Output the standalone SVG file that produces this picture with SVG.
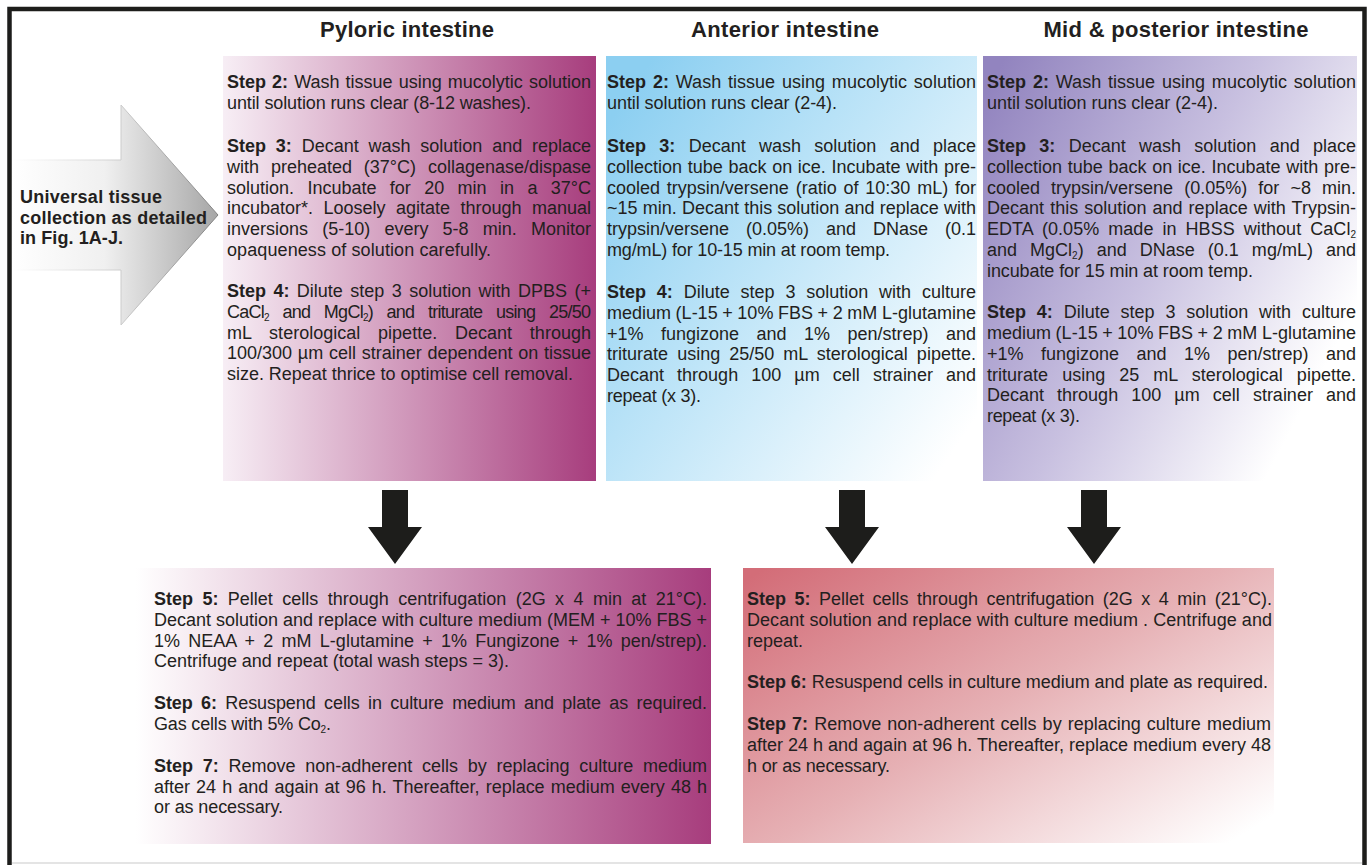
<svg xmlns="http://www.w3.org/2000/svg" width="1367" height="865" viewBox="0 0 1367 865">
<style>
.t{font-family:"Liberation Sans",Arial,sans-serif;font-size:18px;fill:#231f20;}
.b{font-weight:bold;}
.h{font-family:"Liberation Sans",Arial,sans-serif;font-size:22px;font-weight:bold;fill:#231f20;}
.u{font-family:"Liberation Sans",Arial,sans-serif;font-size:18px;font-weight:bold;fill:#231f20;}
.s{font-size:10px;}
.arr{fill:#1d1d1b;}
</style>
<defs>
<linearGradient id="gPy" x1="0" y1="0" x2="1" y2="0"><stop offset="0" stop-color="#f7eef5"/><stop offset="1" stop-color="#a73d7d"/></linearGradient>
<linearGradient id="gPy2" x1="0" y1="0" x2="1" y2="0"><stop offset="0" stop-color="#ffffff"/><stop offset="1" stop-color="#a73d7d"/></linearGradient>
<linearGradient id="gAn" x1="0.05" y1="0.1" x2="1" y2="0.85"><stop offset="0" stop-color="#8ccff1"/><stop offset="0.45" stop-color="#bfe5f8"/><stop offset="1" stop-color="#ffffff"/></linearGradient>
<linearGradient id="gMid" x1="0" y1="0.1" x2="1" y2="0.7"><stop offset="0" stop-color="#9284bf"/><stop offset="0.5" stop-color="#c8c0e0"/><stop offset="0.95" stop-color="#ffffff"/></linearGradient>
<linearGradient id="gRed" x1="0" y1="0.05" x2="1" y2="0.9"><stop offset="0" stop-color="#d36d78"/><stop offset="0.5" stop-color="#e6b0b4"/><stop offset="1" stop-color="#ffffff"/></linearGradient>
<linearGradient id="gArr" gradientUnits="userSpaceOnUse" x1="12" y1="0" x2="218" y2="0"><stop offset="0" stop-color="#ffffff"/><stop offset="0.45" stop-color="#f0f0f0"/><stop offset="1" stop-color="#a6a6a6"/></linearGradient>
<linearGradient id="gArrS" gradientUnits="userSpaceOnUse" x1="12" y1="0" x2="218" y2="0"><stop offset="0" stop-color="#ffffff"/><stop offset="0.5" stop-color="#d0d0d0"/><stop offset="1" stop-color="#808080"/></linearGradient>
</defs>
<rect width="1367" height="865" fill="#ffffff"/>
<line x1="12" y1="863" x2="1362" y2="863" stroke="#e4e4e4" stroke-width="2"/>
<path d="M9.5,866 V9 H1364.5 V866" fill="none" stroke="#1d1d1b" stroke-width="4.5"/>

<g id="source">
<path d="M12,160 H121 V105 L218,215 L121,325 V270 H12 Z" fill="url(#gArr)" stroke="none"/>
<path d="M12,160 H121 V105 L218,215 L121,325 V270 H12" fill="none" stroke="url(#gArrS)" stroke-width="1"/>
<text class="u" x="20" y="203" textLength="142">Universal tissue</text>
<text class="u" x="20" y="224" textLength="187">collection as detailed</text>
<text class="u" x="20" y="244" textLength="103">in Fig. 1A-J.</text>
</g>

<g id="titles">
<text class="h" x="407" y="37" text-anchor="middle" textLength="174">Pyloric intestine</text>
<text class="h" x="785" y="37" text-anchor="middle" textLength="188">Anterior intestine</text>
<text class="h" x="1176" y="37" text-anchor="middle" textLength="265">Mid &amp; posterior intestine</text>
</g>

<g id="pyloric">
<rect x="223" y="56" width="373" height="425" fill="url(#gPy)"/>
<text class="t" x="227" y="88" textLength="364" word-spacing="1"><tspan class="b">Step 2:</tspan> Wash tissue using mucolytic solution</text>
<text class="t" x="227" y="109" textLength="304">until solution runs clear (8-12 washes).</text>
<text class="t" x="227" y="152" textLength="364" word-spacing="4.8"><tspan class="b">Step 3:</tspan> Decant wash solution and replace</text>
<text class="t" x="227" y="173" textLength="364" word-spacing="6.9">with preheated (37°C) collagenase/dispase</text>
<text class="t" x="227" y="194" textLength="364" word-spacing="8.4">solution. Incubate for 20 min in a 37°C</text>
<text class="t" x="227" y="214" textLength="364" word-spacing="5.5">incubator*. Loosely agitate through manual</text>
<text class="t" x="227" y="235" textLength="364" word-spacing="9.2">inversions (5-10) every 5-8 min. Monitor</text>
<text class="t" x="227" y="256" textLength="264">opaqueness of solution carefully.</text>
<text class="t" x="227" y="297" textLength="364" word-spacing="2.4"><tspan class="b">Step 4:</tspan> Dilute step 3 solution with DPBS (+</text>
<text class="t" x="227" y="318" textLength="364" word-spacing="9.3">CaCl<tspan class="s" dy="3">2</tspan><tspan dy="-3"> and MgCl</tspan><tspan class="s" dy="3">2</tspan><tspan dy="-3">) and triturate using 25/50</tspan></text>
<text class="t" x="227" y="339" textLength="364" word-spacing="12.7">mL sterological pipette. Decant through</text>
<text class="t" x="227" y="359" textLength="364" word-spacing="0.8">100/300 µm cell strainer dependent on tissue</text>
<text class="t" x="227" y="380" textLength="346">size. Repeat thrice to optimise cell removal.</text>
</g>

<g id="anterior">
<rect x="606" y="56" width="371" height="425" fill="url(#gAn)"/>
<text class="t" x="607" y="88" textLength="369" word-spacing="1.8"><tspan class="b">Step 2:</tspan> Wash tissue using mucolytic solution</text>
<text class="t" x="607" y="109" textLength="230">until solution runs clear (2-4).</text>
<text class="t" x="607" y="152" textLength="369" word-spacing="8.3"><tspan class="b">Step 3:</tspan> Decant wash solution and place</text>
<text class="t" x="607" y="173" textLength="369" word-spacing="0.7">collection tube back on ice. Incubate with pre-</text>
<text class="t" x="607" y="194" textLength="369" word-spacing="1.8">cooled trypsin/versene (ratio of 10:30 mL) for</text>
<text class="t" x="607" y="214" textLength="369" word-spacing="0.2">~15 min. Decant this solution and replace with</text>
<text class="t" x="607" y="235" textLength="369" word-spacing="12">trypsin/versene (0.05%) and DNase (0.1</text>
<text class="t" x="607" y="256" textLength="283">mg/mL) for 10-15 min at room temp.</text>
<text class="t" x="607" y="298" textLength="369" word-spacing="5.8"><tspan class="b">Step 4:</tspan> Dilute step 3 solution with culture</text>
<text class="t" x="607" y="319" textLength="369" word-spacing="-0.4">medium (L-15 + 10% FBS + 2 mM L-glutamine</text>
<text class="t" x="607" y="340" textLength="369" word-spacing="12.5">+1% fungizone and 1% pen/strep) and</text>
<text class="t" x="607" y="360" textLength="369" word-spacing="4">triturate using 25/50 mL sterological pipette.</text>
<text class="t" x="607" y="381" textLength="369" word-spacing="8.1">Decant through 100 µm cell strainer and</text>
<text class="t" x="607" y="402" textLength="94">repeat (x 3).</text>
</g>

<g id="mid-posterior">
<rect x="983" y="56" width="374" height="425" fill="url(#gMid)"/>
<text class="t" x="987" y="88" textLength="369" word-spacing="1.8"><tspan class="b">Step 2:</tspan> Wash tissue using mucolytic solution</text>
<text class="t" x="987" y="109" textLength="231">until solution runs clear (2-4).</text>
<text class="t" x="987" y="152" textLength="369" word-spacing="8.3"><tspan class="b">Step 3:</tspan> Decant wash solution and place</text>
<text class="t" x="987" y="173" textLength="369" word-spacing="0.7">collection tube back on ice. Incubate with pre-</text>
<text class="t" x="987" y="194" textLength="369" word-spacing="6.1">cooled trypsin/versene (0.05%) for ~8 min.</text>
<text class="t" x="987" y="214" textLength="369" word-spacing="1">Decant this solution and replace with Trypsin-</text>
<text class="t" x="987" y="235" textLength="369" word-spacing="3.9">EDTA (0.05% made in HBSS without CaCl<tspan class="s" dy="3">2</tspan></text>
<text class="t" x="987" y="256" textLength="369" word-spacing="8">and MgCl<tspan class="s" dy="3">2</tspan><tspan dy="-3">) and DNase (0.1 mg/mL) and</tspan></text>
<text class="t" x="987" y="277" textLength="266">incubate for 15 min at room temp.</text>
<text class="t" x="987" y="318" textLength="369" word-spacing="5.8"><tspan class="b">Step 4:</tspan> Dilute step 3 solution with culture</text>
<text class="t" x="987" y="339" textLength="369" word-spacing="-0.4">medium (L-15 + 10% FBS + 2 mM L-glutamine</text>
<text class="t" x="987" y="360" textLength="369" word-spacing="12.5">+1% fungizone and 1% pen/strep) and</text>
<text class="t" x="987" y="381" textLength="369" word-spacing="9">triturate using 25 mL sterological pipette.</text>
<text class="t" x="987" y="401" textLength="369" word-spacing="8.1">Decant through 100 µm cell strainer and</text>
<text class="t" x="987" y="422" textLength="93">repeat (x 3).</text>
</g>

<g id="connectors">
<path class="arr" d="M382,490 H408 V527 H422 L395,564 L368,527 H382 Z"/>
<path class="arr" d="M839,490 H865 V527 H879 L852,564 L825,527 H839 Z"/>
<path class="arr" d="M1081,490 H1107 V527 H1121 L1094,564 L1067,527 H1081 Z"/>
</g>

<g id="pyloric-culture">
<rect x="136" y="568" width="575" height="276" fill="url(#gPy2)"/>
<text class="t" x="154" y="605" textLength="553" word-spacing="4.4"><tspan class="b">Step 5:</tspan> Pellet cells through centrifugation (2G x 4 min at 21°C).</text>
<text class="t" x="154" y="626" textLength="553">Decant solution and replace with culture medium (MEM + 10% FBS +</text>
<text class="t" x="154" y="647" textLength="553" word-spacing="3.2">1% NEAA + 2 mM L-glutamine + 1% Fungizone + 1% pen/strep).</text>
<text class="t" x="154" y="667" textLength="355">Centrifuge and repeat (total wash steps = 3).</text>
<text class="t" x="154" y="709" textLength="553" word-spacing="3.5"><tspan class="b">Step 6:</tspan> Resuspend cells in culture medium and plate as required.</text>
<text class="t" x="154" y="730" textLength="177">Gas cells with 5% Co<tspan class="s" dy="3">2</tspan><tspan dy="-3">.</tspan></text>
<text class="t" x="154" y="772" textLength="553" word-spacing="4.7"><tspan class="b">Step 7:</tspan> Remove non-adherent cells by replacing culture medium</text>
<text class="t" x="154" y="793" textLength="553" word-spacing="1.1">after 24 h and again at 96 h. Thereafter, replace medium every 48 h</text>
<text class="t" x="154" y="813" textLength="129">or as necessary.</text>
</g>

<g id="intestine-culture">
<rect x="743" y="568" width="531" height="275" fill="url(#gRed)"/>
<text class="t" x="747" y="605" textLength="525" word-spacing="3.5"><tspan class="b">Step 5:</tspan> Pellet cells through centrifugation (2G x 4 min (21°C).</text>
<text class="t" x="747" y="626" textLength="525">Decant solution and replace with culture medium . Centrifuge and</text>
<text class="t" x="747" y="647" textLength="56">repeat.</text>
<text class="t" x="747" y="688" textLength="521"><tspan class="b">Step 6:</tspan> Resuspend cells in culture medium and plate as required.</text>
<text class="t" x="747" y="730" textLength="524" word-spacing="1.1"><tspan class="b">Step 7:</tspan> Remove non-adherent cells by replacing culture medium</text>
<text class="t" x="747" y="751" textLength="524">after 24 h and again at 96 h. Thereafter, replace medium every 48</text>
<text class="t" x="747" y="772" textLength="143">h or as necessary.</text>
</g>
</svg>
